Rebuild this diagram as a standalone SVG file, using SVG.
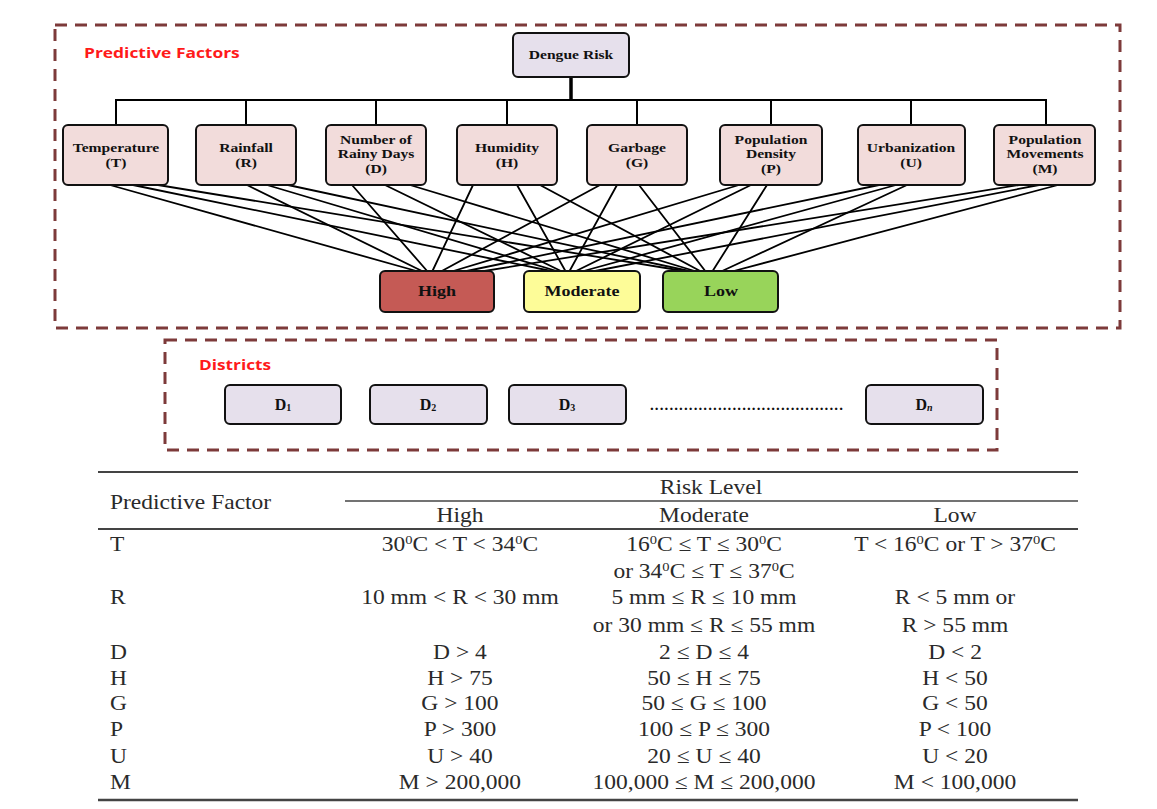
<svg xmlns="http://www.w3.org/2000/svg" width="1157" height="809" viewBox="0 0 1157 809">
<defs>
<style>
.frame{fill:none;stroke:#7d3a3a;stroke-width:3;stroke-dasharray:12 8}
.sec{font-family:"Open Sans","Liberation Sans",sans-serif;font-weight:700;font-size:15px;fill:#ff1a1a}
.fac{fill:#f2dcdb;stroke:#111;stroke-width:2}
.lav{fill:#e6e0ec;stroke:#111;stroke-width:2}
.nt{font-family:"Liberation Serif","Times New Roman",serif;font-weight:700;font-size:13px;fill:#111;text-anchor:middle}
.rt{font-family:"Liberation Serif","Times New Roman",serif;font-weight:700;font-size:15px;fill:#111;text-anchor:middle}
.dt{font-family:"Liberation Serif","Times New Roman",serif;font-weight:700;font-size:16px;fill:#111;text-anchor:middle}
.tree{stroke:#000;stroke-width:2;fill:none}
.cn{stroke:#000;stroke-width:1.8;fill:none}
.tb{font-family:"Liberation Serif","Times New Roman",serif;font-size:21px;fill:#2a2a2a}
.c{text-anchor:middle}
.rule{stroke:#444;fill:none}
</style>
</defs>
<rect width="1157" height="809" fill="#fff"/>

<!-- frames -->
<rect class="frame" x="55" y="25" width="1065" height="303"/>
<text class="sec" transform="matrix(1.16 0 0 1 84 0)" x="0" y="58">Predictive Factors</text>
<rect class="frame" x="165" y="340" width="832" height="110"/>
<text class="sec" transform="matrix(1.15 0 0 1 199 0)" x="0" y="370">Districts</text>

<!-- connectors -->
<g id="connectors">
<line class="tree" x1="571" y1="77" x2="571" y2="100" style="stroke-width:3.5"/>
<line class="tree" x1="115" y1="100" x2="1047" y2="100"/>
<line class="tree" x1="116" y1="100" x2="116" y2="125"/>
<line class="tree" x1="246" y1="100" x2="246" y2="125"/>
<line class="tree" x1="376" y1="100" x2="376" y2="125"/>
<line class="tree" x1="507" y1="100" x2="507" y2="125"/>
<line class="tree" x1="637" y1="100" x2="637" y2="125"/>
<line class="tree" x1="771" y1="100" x2="771" y2="125"/>
<line class="tree" x1="911" y1="100" x2="911" y2="125"/>
<line class="tree" x1="1046" y1="100" x2="1046" y2="125"/>

<path class="cn" d="M110 185L420 272M133 185L556 272M158 185L690 272"/>
<path class="cn" d="M247 185L424 272M267 185L560 272M288 185L694 272"/>
<path class="cn" d="M352 185L428 272M385 185L563 272M410 185L698 272"/>
<path class="cn" d="M473 185L432 272M517 185L566 272M540 185L702 272"/>
<path class="cn" d="M600 185L440 272M617 185L569 272M639 185L706 272"/>
<path class="cn" d="M739 185L450 272M751 185L574 272M767 185L712 272"/>
<path class="cn" d="M879 185L462 272M896 185L580 272M907 185L720 272"/>
<path class="cn" d="M1019 185L478 272M1039 185L590 272M1058 185L730 272"/>
</g>

<!-- nodes -->
<g id="dengue-risk">
<rect class="lav" x="513" y="33" width="116" height="44" rx="5"/>
<text class="nt" transform="matrix(1.2 0 0 1 571 0)" x="0" y="59">Dengue Risk</text>
</g>

<g id="temperature">
<rect class="fac" x="63" y="125" width="105" height="60" rx="5"/>
<text class="nt" transform="matrix(1.2 0 0 1 116 0)" x="0" y="152">Temperature</text>
<text class="nt" transform="matrix(1.2 0 0 1 116 0)" x="0" y="167">(T)</text>
</g>
<g id="rainfall">
<rect class="fac" x="196" y="125" width="100" height="60" rx="5"/>
<text class="nt" transform="matrix(1.2 0 0 1 246 0)" x="0" y="152">Rainfall</text>
<text class="nt" transform="matrix(1.2 0 0 1 246 0)" x="0" y="167">(R)</text>
</g>
<g id="rainy-days">
<rect class="fac" x="326" y="125" width="100" height="60" rx="5"/>
<text class="nt" transform="matrix(1.2 0 0 1 376 0)" x="0" y="144">Number of</text>
<text class="nt" transform="matrix(1.2 0 0 1 376 0)" x="0" y="158">Rainy Days</text>
<text class="nt" transform="matrix(1.2 0 0 1 376 0)" x="0" y="173">(D)</text>
</g>
<g id="humidity">
<rect class="fac" x="457" y="125" width="100" height="60" rx="5"/>
<text class="nt" transform="matrix(1.2 0 0 1 507 0)" x="0" y="152">Humidity</text>
<text class="nt" transform="matrix(1.2 0 0 1 507 0)" x="0" y="167">(H)</text>
</g>
<g id="garbage">
<rect class="fac" x="587" y="125" width="100" height="60" rx="5"/>
<text class="nt" transform="matrix(1.2 0 0 1 637 0)" x="0" y="152">Garbage</text>
<text class="nt" transform="matrix(1.2 0 0 1 637 0)" x="0" y="167">(G)</text>
</g>
<g id="population-density">
<rect class="fac" x="720" y="125" width="102" height="60" rx="5"/>
<text class="nt" transform="matrix(1.2 0 0 1 771 0)" x="0" y="144">Population</text>
<text class="nt" transform="matrix(1.2 0 0 1 771 0)" x="0" y="158">Density</text>
<text class="nt" transform="matrix(1.2 0 0 1 771 0)" x="0" y="173">(P)</text>
</g>
<g id="urbanization">
<rect class="fac" x="858" y="125" width="107" height="60" rx="5"/>
<text class="nt" transform="matrix(1.2 0 0 1 911 0)" x="0" y="152">Urbanization</text>
<text class="nt" transform="matrix(1.2 0 0 1 911 0)" x="0" y="167">(U)</text>
</g>
<g id="population-movements">
<rect class="fac" x="994" y="125" width="101" height="60" rx="5"/>
<text class="nt" transform="matrix(1.2 0 0 1 1045 0)" x="0" y="144">Population</text>
<text class="nt" transform="matrix(1.2 0 0 1 1045 0)" x="0" y="158">Movements</text>
<text class="nt" transform="matrix(1.2 0 0 1 1045 0)" x="0" y="173">(M)</text>
</g>

<g id="high">
<rect x="380" y="271" width="114" height="41" rx="5" fill="#c55a55" stroke="#111" stroke-width="2"/>
<text class="rt" transform="matrix(1.2 0 0 1 437 0)" x="0" y="296">High</text>
</g>
<g id="moderate">
<rect x="524" y="271" width="116" height="41" rx="5" fill="#fdfc98" stroke="#111" stroke-width="2"/>
<text class="rt" transform="matrix(1.2 0 0 1 582 0)" x="0" y="296">Moderate</text>
</g>
<g id="low">
<rect x="663" y="271" width="115" height="41" rx="5" fill="#98d45a" stroke="#111" stroke-width="2"/>
<text class="rt" transform="matrix(1.2 0 0 1 721 0)" x="0" y="296">Low</text>
</g>

<g id="d1">
<rect class="lav" x="225" y="385" width="116" height="39" rx="5"/>
<text class="dt" x="283" y="410">D<tspan font-size="10" dy="1">1</tspan></text>
</g>
<g id="d2">
<rect class="lav" x="370" y="385" width="117" height="39" rx="5"/>
<text class="dt" x="428" y="410">D<tspan font-size="10" dy="1">2</tspan></text>
</g>
<g id="d3">
<rect class="lav" x="509" y="385" width="117" height="39" rx="5"/>
<text class="dt" x="567" y="410">D<tspan font-size="10" dy="1">3</tspan></text>
</g>
<text class="dt" x="747" y="410" style="font-size:15px;letter-spacing:1.1px">........................................</text>
<g id="dn">
<rect class="lav" x="866" y="385" width="117" height="39" rx="5"/>
<text class="dt" x="924" y="410">D<tspan font-size="10" font-style="italic" dy="1">n</tspan></text>
</g>

<!-- table -->
<g id="table">
<line class="rule" x1="98" y1="472" x2="1078" y2="472" stroke-width="2"/>
<line class="rule" x1="345" y1="501" x2="1078" y2="501" stroke-width="1.5"/>
<line class="rule" x1="98" y1="529" x2="1078" y2="529" stroke-width="2"/>
<line class="rule" x1="98" y1="800" x2="1078" y2="800" stroke-width="2.5"/>
<g transform="scale(1.12 1)" class="tb">
<text x="98.2" y="509">Predictive Factor</text>
<text class="c" x="634.8" y="494">Risk Level</text>
<text class="c" x="410.7" y="522">High</text>
<text class="c" x="628.6" y="522">Moderate</text>
<text class="c" x="852.7" y="522">Low</text>

<text x="98.2" y="551">T</text>
<text class="c" x="410.7" y="551">30<tspan baseline-shift="super" font-size="13">0</tspan>C &lt; T &lt; 34<tspan baseline-shift="super" font-size="13">0</tspan>C</text>
<text class="c" x="628.6" y="551">16<tspan baseline-shift="super" font-size="13">0</tspan>C ≤ T ≤ 30<tspan baseline-shift="super" font-size="13">0</tspan>C</text>
<text class="c" x="852.7" y="551">T &lt; 16<tspan baseline-shift="super" font-size="13">0</tspan>C or T &gt; 37<tspan baseline-shift="super" font-size="13">0</tspan>C</text>
<text class="c" x="628.6" y="578">or 34<tspan baseline-shift="super" font-size="13">0</tspan>C ≤ T ≤ 37<tspan baseline-shift="super" font-size="13">0</tspan>C</text>

<text x="98.2" y="604">R</text>
<text class="c" x="410.7" y="604">10 mm &lt; R &lt; 30 mm</text>
<text class="c" x="628.6" y="604">5 mm ≤ R ≤ 10 mm</text>
<text class="c" x="852.7" y="604">R &lt; 5 mm or</text>
<text class="c" x="628.6" y="632">or 30 mm ≤ R ≤ 55 mm</text>
<text class="c" x="852.7" y="632">R &gt; 55 mm</text>

<text x="98.2" y="659">D</text>
<text class="c" x="410.7" y="659">D &gt; 4</text>
<text class="c" x="628.6" y="659">2 ≤ D ≤ 4</text>
<text class="c" x="852.7" y="659">D &lt; 2</text>

<text x="98.2" y="685">H</text>
<text class="c" x="410.7" y="685">H &gt; 75</text>
<text class="c" x="628.6" y="685">50 ≤ H ≤ 75</text>
<text class="c" x="852.7" y="685">H &lt; 50</text>

<text x="98.2" y="710">G</text>
<text class="c" x="410.7" y="710">G &gt; 100</text>
<text class="c" x="628.6" y="710">50 ≤ G ≤ 100</text>
<text class="c" x="852.7" y="710">G &lt; 50</text>

<text x="98.2" y="736">P</text>
<text class="c" x="410.7" y="736">P &gt; 300</text>
<text class="c" x="628.6" y="736">100 ≤ P ≤ 300</text>
<text class="c" x="852.7" y="736">P &lt; 100</text>

<text x="98.2" y="763">U</text>
<text class="c" x="410.7" y="763">U &gt; 40</text>
<text class="c" x="628.6" y="763">20 ≤ U ≤ 40</text>
<text class="c" x="852.7" y="763">U &lt; 20</text>

<text x="98.2" y="789">M</text>
<text class="c" x="410.7" y="789">M &gt; 200,000</text>
<text class="c" x="628.6" y="789">100,000 ≤ M ≤ 200,000</text>
<text class="c" x="852.7" y="789">M &lt; 100,000</text>
</g>
</g>
</svg>
